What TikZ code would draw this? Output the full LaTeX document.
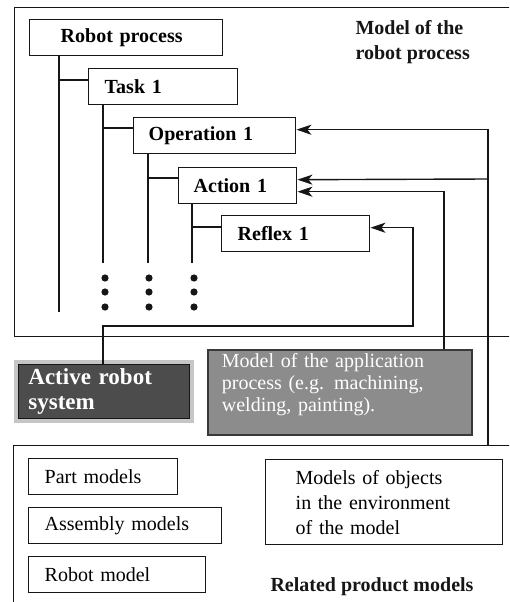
\documentclass[tikz,border=0pt]{standalone}
\usepackage{fontspec}
\setmainfont{Liberation Serif}
\usetikzlibrary{arrows.meta,positioning}
\definecolor{ink}{HTML}{161616}
\definecolor{darkbox}{HTML}{4C4C4C}
\definecolor{midbox}{HTML}{8C8C8C}
\definecolor{halftone}{HTML}{C6C6C6}
\tikzset{
  box/.style={draw=ink,line width=1.4pt,fill=white,anchor=north west,minimum height=36pt,inner xsep=16pt,inner ysep=0pt,align=left,font=\fontsize{20}{24}\selectfont\bfseries},
  pbox/.style={box,font=\fontsize{20}{25}\selectfont},
  frame/.style={draw=ink,line width=1.4pt,anchor=north west,inner sep=0pt},
  plain/.style={align=left,font=\fontsize{20}{25}\selectfont\bfseries,text=ink},
  ars/.style={preaction={draw=halftone,line width=9pt},fill=darkbox,draw=ink,line width=.8pt,anchor=north west,inner xsep=10pt,inner ysep=0pt,align=left,text=white,font=\fontsize{23}{25}\selectfont\bfseries},
  app/.style={fill=midbox,draw=ink!85,line width=1.8pt,anchor=north west,inner xsep=14pt,inner ysep=0pt,align=left,text=white,font=\fontsize{20}{22}\selectfont},
  ln/.style={draw=ink,line width=1.4pt},
  ar/.style={ln,-{Stealth[length=15pt,width=10pt,inset=4pt]}},
  dot/.style={fill=ink},
}
\begin{document}
\begin{tikzpicture}[x=1pt,y=-1pt]
  \useasboundingbox (0,0) rectangle (509,602);
  \clip (0,0) rectangle (509,602);
  % frames
  \node[frame,minimum width=510pt,minimum height=329pt] (rpm) at (14,7) {};
  \node[frame,minimum width=510pt,minimum height=170pt] (rel) at (13,445) {};
  \node[plain,anchor=north west] (rpmlbl) at (352,17) {Model of the\\robot process};
  % hierarchy
  \node[box,text width=131pt,inner xsep=31pt] (rp) at (29,19) {Robot process};
  \node[box,text width=117pt] (task) at (88,68) {Task 1};
  \node[box,text width=132pt,inner xsep=15pt] (op) at (133,117) {Operation 1};
  \node[box,text width=88pt,inner xsep=15pt] (act) at (178,167) {Action 1};
  \node[box,text width=116pt] (rfx) at (221,215) {Reflex 1};
  \draw[ln] (rp.south -| 59,0) -- (59,312);
  \draw[ln] (59,80) -- (task.west |- 0,80);
  \draw[ln] (task.south -| 103,0) -- (103,263);
  \draw[ln] (103,128) -- (op.west |- 0,128);
  \draw[ln] (op.south -| 148,0) -- (148,263);
  \draw[ln] (148,178) -- (act.west |- 0,178);
  \draw[ln] (act.south -| 192,0) -- (192,263);
  \draw[ln] (192,227) -- (rfx.west |- 0,227);
  \foreach \x in {105,149,194} \foreach \y in {278,292,307} \fill[dot] (\x,\y) circle (3.6pt);
  % systems
  \node[ars,text width=151pt,minimum height=54pt] (sys) at (18,364) {Active robot\\system};
  \node[app,text width=236pt,minimum height=85pt] (appm) at (207,349) {Model of the application\\process (e.g. machining,\\welding, painting).\par\vspace{16pt}};
  \draw[ar] (sys.north -| 103,0) |- (413,326) |- ([yshift=6pt]rfx.east);
  \draw[ar] (appm.north -| 444,0) |- ([yshift=-6pt]act.east);
  \draw[ar] (rel.north -| 488,0) |- ([yshift=6pt]op.east);
  \draw[ar] (488,179) -- ([yshift=6pt]act.east);
  % product models
  \node[pbox,text width=117pt] (part) at (28,458) {Part models};
  \node[pbox,text width=161pt] (asm) at (28,507) {Assembly models};
  \node[pbox,text width=145pt] (rbm) at (28,556) {Robot model};
  \node[pbox,text width=177pt,inner xsep=30pt,minimum height=85pt] (env) at (265,459) {Models of objects\\in the environment\\of the model};
  \node[plain,anchor=west] (rellbl) at (267,587) {Related product models};
\end{tikzpicture}
\end{document}
